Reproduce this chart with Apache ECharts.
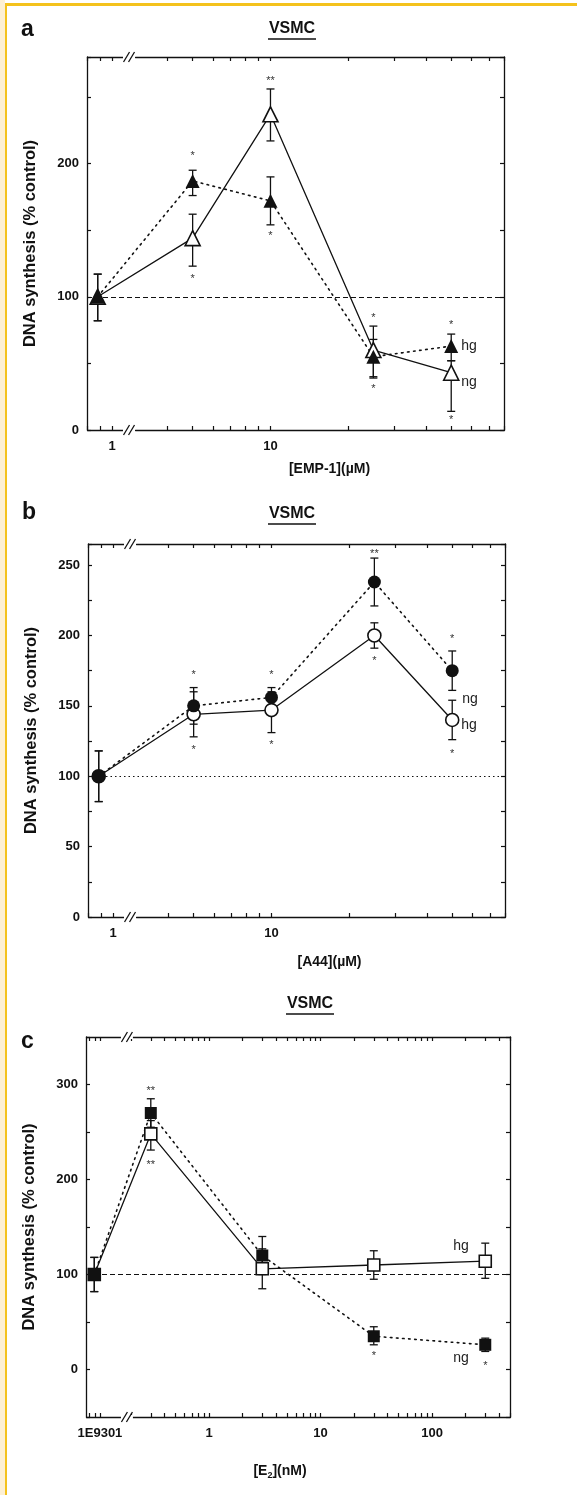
<!DOCTYPE html>
<html>
<head>
<meta charset="utf-8">
<script src="https://cdn.jsdelivr.net/npm/echarts@6/dist/echarts.min.js"></script>
<style>
html, body { margin: 0; padding: 0; background: #fff; }
#main { width: 577px; height: 1495px; }
</style>
</head>
<body>
<div id="main"></div>
<script>
// panel a : EMP-1 (uM), control plotted left of the axis break
var concA = [0.88, 5, 10, 25, 50];
var hgA = [100, 187, 172, 55, 63];
var hgA_lo = [82, 176, 154, 40, 52];
var hgA_hi = [117, 195, 190, 68, 72];
var ngA = [100, 144, 237, 60, 43];
var ngA_lo = [82, 123, 217, 39, 14];
var ngA_hi = [117, 162, 256, 78, 52];
var starsA = [[5, 208, '*'], [5, 116, '*'], [10, 264, '**'], [10, 148, '*'],
              [25, 86, '*'], [25, 33, '*'], [50, 81, '*'], [50, 10, '*']];

// panel b : A44 (uM)
var concB = [0.88, 5, 10, 25, 50];
var ngB = [100, 150, 156, 238, 175];
var ngB_lo = [82, 137, 149, 221, 161];
var ngB_hi = [118, 163, 163, 255, 189];
var hgB = [100, 144, 147, 200, 140];
var hgB_lo = [82, 128, 131, 191, 126];
var hgB_hi = [118, 160, 160, 209, 154];
var starsB = [[5, 174, '*'], [5, 121, '*'], [10, 174, '*'], [10, 124, '*'],
              [25, 260, '**'], [25, 184, '*'], [50, 200, '*'], [50, 118, '*']];

// panel c : E2 (nM)
var concC = [0.089, 0.3, 3, 30, 300];
var ngC = [100, 270, 120, 35, 26];
var ngC_lo = [82, 255, 100, 26, 19];
var ngC_hi = [118, 285, 140, 45, 33];
var hgC = [100, 248, 106, 110, 114];
var hgC_lo = [82, 231, 85, 95, 96];
var hgC_hi = [118, 262, 127, 125, 133];
var starsC = [[0.3, 296, '**'], [0.3, 218, '**'], [30, 17, '*'], [300, 7, '*']];

// axis ticks and labels
var xTicksAB = [0.8, 0.9, 1, 4, 5, 6, 7, 8, 9, 10, 20, 30, 40, 50, 60, 70, 80];
var xLabelValsAB = [1, 10];
var xLabelsAB = ['1', '10'];
var xTicksC = [0.08, 0.09, 0.1, 0.2, 0.3, 0.4, 0.5, 0.6, 0.7, 0.8, 0.9, 1, 2, 3, 4, 5, 6, 7, 8, 9,
               10, 20, 30, 40, 50, 60, 70, 80, 90, 100, 200, 300, 400, 500];
var xLabelValsC = [0.1, 1, 10, 100];
var xLabelsC = ['1E9301', '1', '10', '100'];
var yLabelsA = [0, 100, 200];
var yLabelsB = [0, 50, 100, 150, 200, 250];
var yLabelsC = [0, 100, 200, 300];

var FONT = 'Liberation Sans, Arial, sans-serif';
var grids = [
    { left: 87, top: 57, width: 417, height: 373 },
    { left: 88, top: 544, width: 417, height: 373 },
    { left: 86, top: 1037, width: 424, height: 380 }
];
var brk = [
    { start: 1.1, end: 3, gap: '3%' },
    { start: 1.1, end: 3, gap: '3%' },
    { start: 0.16, end: 0.2, gap: '2%' }
];

function pairs(xs, ys) {
    return xs.map(function (x, i) { return [x, ys[i]]; });
}

function xAxisPair(g, min, max, ticks, labVals, labs, name, nameGap, namePad) {
    var base = {
        type: 'log', logBase: 10, min: min, max: max, gridIndex: g,
        breaks: [brk[g]],
        breakArea: { show: false },
        axisLine: { onZero: false, lineStyle: { color: '#111', width: 1.3 } },
        axisTick: { inside: true, length: 4, customValues: ticks, lineStyle: { color: '#111', width: 1.2 } },
        splitLine: { show: false },
        minorTick: { show: false }
    };
    var bottom = echarts.util.merge({
        position: 'bottom',
        name: name, nameLocation: 'middle', nameGap: nameGap,
        nameTextStyle: { fontFamily: FONT, fontSize: 14, fontWeight: 'bold', color: '#111', padding: namePad,
            rich: {
                n: { fontFamily: FONT, fontSize: 14, fontWeight: 'bold', color: '#111' },
                s: { fontFamily: FONT, fontSize: 9, fontWeight: 'bold', color: '#111', verticalAlign: 'bottom', padding: [8, 0, 0, 0] }
            } },
        axisLabel: {
            customValues: labVals, margin: 10,
            fontFamily: FONT, fontSize: 13, fontWeight: 'bold', color: '#111',
            formatter: function (v) {
                for (var i = 0; i < labVals.length; i++) {
                    if (Math.abs(v - labVals[i]) < labVals[i] * 1e-6) return labs[i];
                }
                return '';
            }
        }
    }, echarts.util.clone(base), false);
    var top = echarts.util.merge({ position: 'top', axisLabel: { show: false } }, echarts.util.clone(base), false);
    return [bottom, top];
}

function yAxisPair(g, min, max, interval, labVals) {
    var base = {
        type: 'value', gridIndex: g, min: min, max: max, interval: interval,
        axisLine: { show: true, onZero: false, lineStyle: { color: '#111', width: 1.3 } },
        axisTick: { show: true, inside: true, length: 4, lineStyle: { color: '#111', width: 1.2 } },
        splitLine: { show: false }
    };
    var left = echarts.util.merge({
        position: 'left',
        name: 'DNA synthesis (% control)', nameLocation: 'middle', nameGap: 48,
        nameTextStyle: { fontFamily: FONT, fontSize: 16.5, fontWeight: 'bold', color: '#111' },
        axisLabel: { customValues: labVals, margin: 8, fontFamily: FONT, fontSize: 13, fontWeight: 'bold', color: '#111' }
    }, echarts.util.clone(base), false);
    var right = echarts.util.merge({ position: 'right', axisLabel: { show: false } }, echarts.util.clone(base), false);
    return [left, right];
}

function errBars(xs, lo, hi, ai) {
    return {
        type: 'custom', xAxisIndex: ai, yAxisIndex: ai, z: 3, silent: true,
        data: xs.map(function (x, i) { return [x, lo[i], hi[i]]; }),
        renderItem: function (params, api) {
            var p1 = api.coord([api.value(0), api.value(1)]);
            var p2 = api.coord([api.value(0), api.value(2)]);
            var w = 4;
            var st = { stroke: '#111', lineWidth: 1.3 };
            return { type: 'group', children: [
                { type: 'line', shape: { x1: p1[0], y1: p1[1], x2: p2[0], y2: p2[1] }, style: st },
                { type: 'line', shape: { x1: p1[0] - w, y1: p1[1], x2: p1[0] + w, y2: p1[1] }, style: st },
                { type: 'line', shape: { x1: p2[0] - w, y1: p2[1], x2: p2[0] + w, y2: p2[1] }, style: st }
            ] };
        }
    };
}

function stars(list, ai) {
    return {
        type: 'scatter', xAxisIndex: ai, yAxisIndex: ai, symbolSize: 2, silent: true, z: 6,
        itemStyle: { color: 'rgba(0,0,0,0)' },
        data: list,
        label: { show: true, position: 'inside', offset: [0, 3], formatter: function (p) { return p.data[2]; },
            fontFamily: FONT, fontSize: 11, color: '#333', opacity: 1 }
    };
}

function dataLine(xs, ys, ai, symbol, size, filled, dotted, endText, endOffset, refLine) {
    var s = {
        type: 'line', xAxisIndex: ai, yAxisIndex: ai, z: 4,
        data: pairs(xs, ys),
        symbol: symbol, symbolSize: size, showSymbol: true,
        itemStyle: { color: filled ? '#111' : '#fff', borderColor: '#111', borderWidth: filled ? 0 : 1.6 },
        lineStyle: { color: '#111', width: dotted ? 1.6 : 1.3, type: dotted ? [1.6, 4.5] : 'solid', cap: 'round' },
        endLabel: { show: true, formatter: endText, offset: endOffset, fontFamily: FONT, fontSize: 14, color: '#222' }
    };
    if (refLine) {
        s.markLine = {
            silent: true, symbol: 'none', label: { show: false },
            lineStyle: { color: '#111', width: 1.2, type: refLine },
            data: [{ yAxis: 100 }]
        };
    }
    return s;
}

var xA = xAxisPair(0, 0.8, 80, xTicksAB, xLabelValsAB, xLabelsAB, '[EMP-1](µM)', 32, [0, 0, 0, 68]);
var xB = xAxisPair(1, 0.8, 80, xTicksAB, xLabelValsAB, xLabelsAB, '[A44](µM)', 38, [0, 0, 0, 66]);
var xC = xAxisPair(2, 0.075, 500, xTicksC, xLabelValsC, xLabelsC, '{n|[E}{s|2}{n|](nM)}', 46, [0, 36, 0, 0]);
var yA = yAxisPair(0, 0, 280, 50, yLabelsA);
var yB = yAxisPair(1, 0, 265, 25, yLabelsB);
var yC = yAxisPair(2, -50, 350, 50, yLabelsC);

var myChart = echarts.init(document.getElementById('main'), null, { renderer: 'canvas' });

var frame = [
    { type: 'rect', shape: { x: 0, y: 0, width: 5, height: 1495 }, style: { fill: '#fdf0d3' }, silent: true },
    { type: 'rect', shape: { x: 5, y: 3, width: 2, height: 1492 }, style: { fill: '#f4c21d' }, silent: true },
    { type: 'rect', shape: { x: 5, y: 3, width: 572, height: 3 }, style: { fill: '#f4c21d' }, silent: true }
];
function heading(letter, lx, ly, cx, cy) {
    return [
        { type: 'text', x: lx, y: ly, style: { text: letter, font: 'bold 23px ' + FONT, fill: '#111', textVerticalAlign: 'middle' } },
        { type: 'text', x: cx, y: cy, style: { text: 'VSMC', font: 'bold 16px ' + FONT, fill: '#111', textAlign: 'center', textVerticalAlign: 'middle' } },
        { type: 'line', shape: { x1: cx - 24, y1: cy + 10, x2: cx + 24, y2: cy + 10 }, style: { stroke: '#111', lineWidth: 1.4 } }
    ];
}
var graphics = frame
    .concat(heading('a', 21, 30, 292, 29))
    .concat(heading('b', 22, 513, 292, 514))
    .concat(heading('c', 21, 1042, 310, 1004));

myChart.setOption({
    animation: false,
    backgroundColor: '#fff',
    grid: grids.map(function (g) {
        return { left: g.left, top: g.top, width: g.width, height: g.height, outerBoundsMode: 'none', containLabel: false };
    }),
    xAxis: xA.concat(xB).concat(xC),
    yAxis: yA.concat(yB).concat(yC),
    graphic: graphics,
    series: [
        dataLine(concA, ngA, 0, 'triangle', 15, false, false, 'ng', [2, 9], [5, 3]),
        dataLine(concA, hgA, 0, 'triangle', 14, true, true, 'hg', [2, 0], null),
        errBars(concA, ngA_lo, ngA_hi, 0),
        errBars(concA, hgA_lo, hgA_hi, 0),
        stars(starsA, 0),

        dataLine(concB, hgB, 2, 'circle', 13, false, false, 'hg', [1, 5], [1.5, 3]),
        dataLine(concB, ngB, 2, 'circle', 13, true, true, 'ng', [2, 28], null),
        errBars(concB, hgB_lo, hgB_hi, 2),
        errBars(concB, ngB_lo, ngB_hi, 2),
        stars(starsB, 2),

        dataLine(concC, hgC, 4, 'rect', 12, false, false, 'hg', [-40, -15], [5, 3]),
        dataLine(concC, ngC, 4, 'rect', 12, true, true, 'ng', [-40, 13], null),
        errBars(concC, hgC_lo, hgC_hi, 4),
        errBars(concC, ngC_lo, ngC_hi, 4),
        stars(starsC, 4)
    ]
});

// draw the "//" break marks on top and bottom axis lines
var marks = [];
grids.forEach(function (g, i) {
    var ai = i * 2;
    var xa = myChart.convertToPixel({ xAxisIndex: ai }, brk[i].start);
    var xb = myChart.convertToPixel({ xAxisIndex: ai }, brk[i].end);
    var mid = (xa + xb) / 2;
    [g.top, g.top + g.height].forEach(function (yy) {
        marks.push({ type: 'rect', shape: { x: mid - 6, y: yy - 2, width: 12, height: 4 }, style: { fill: '#fff' }, silent: true, z: 100 });
        [-2.5, 2.5].forEach(function (d) {
            marks.push({ type: 'line', shape: { x1: mid + d - 3, y1: yy + 5, x2: mid + d + 3, y2: yy - 5 },
                style: { stroke: '#111', lineWidth: 1.3 }, silent: true, z: 101 });
        });
    });
});
myChart.setOption({ graphic: graphics.concat(marks) });
</script>
</body>
</html>
